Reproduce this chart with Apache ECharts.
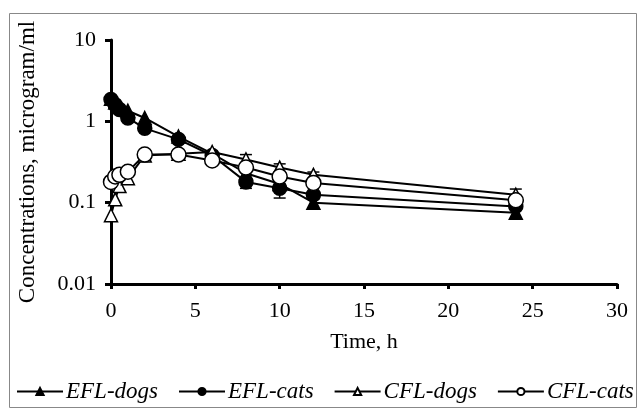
<!DOCTYPE html>
<html>
<head>
<meta charset="utf-8">
<script src="https://cdn.jsdelivr.net/npm/echarts@6/dist/echarts.min.js"></script>
<style>
html,body{margin:0;padding:0;background:#fff;}
#chart{width:641px;height:413px;}
</style>
</head>
<body>
<div id="chart"></div>
<script>
var seriesNames = ['EFL-dogs', 'EFL-cats', 'CFL-dogs', 'CFL-cats'];
var times = [0, 0.25, 0.5, 1, 2, 4, 6, 8, 10, 12, 24];
var eflDogs = [1.9, 1.7, 1.5, 1.35, 1.1, 0.65, 0.4, 0.23, 0.17, 0.1, 0.075];
var eflCats = [1.85, 1.6, 1.4, 1.1, 0.82, 0.6, 0.38, 0.18, 0.15, 0.125, 0.09];
var cflDogs = [0.07, 0.11, 0.16, 0.2, 0.38, 0.4, 0.42, 0.34, 0.27, 0.22, 0.125];
var cflCats = [0.18, 0.21, 0.22, 0.24, 0.39, 0.39, 0.33, 0.27, 0.21, 0.175, 0.107];
// error bars: [time, low, high]
var errBars = [
  [8, 0.3, 0.39], [8, 0.15, 0.2],
  [10, 0.114, 0.17], [10, 0.24, 0.3],
  [12, 0.083, 0.11], [12, 0.19, 0.238],
  [24, 0.063, 0.085], [24, 0.1, 0.147]
];
var yTickLabels = ['0.01', '0.1', '1', '10'];
var xTickLabels = ['0', '5', '10', '15', '20', '25', '30'];

function pairs(ys) { return times.map(function (t, i) { return [t, ys[i]]; }); }

var font = 'Liberation Serif';
var chart = echarts.init(document.getElementById('chart'));

function lineSeries(name, ys, symbol, filled, size) {
  return {
    name: name, type: 'line', data: pairs(ys),
    symbol: symbol, symbolSize: size, showAllSymbol: true,
    lineStyle: { color: '#000', width: 2 },
    itemStyle: { color: filled ? '#000' : '#fff', borderColor: '#000', borderWidth: 1.5 },
    emphasis: { disabled: true },
    z: 3
  };
}

var option = {
  animation: false,
  graphic: [{
    type: 'rect', left: 7, top: 11,
    shape: { width: 627, height: 394 },
    style: { fill: 'none', stroke: '#888', lineWidth: 1 }, silent: true
  }],
  grid: { left: 111, right: 24, top: 40, bottom: 129 },
  legend: {
    bottom: 5, left: 11,
    itemWidth: 46, itemHeight: 9, itemGap: 20,
    textStyle: { fontFamily: font, fontStyle: 'italic', fontSize: 23, color: '#000', padding: [0, 0, 0, -2] },
    data: seriesNames
  },
  xAxis: {
    type: 'value', min: 0, max: 30, interval: 5,
    name: 'Time, h', nameLocation: 'middle', nameGap: 47,
    nameTextStyle: { fontFamily: font, fontSize: 22, color: '#000', verticalAlign: 'top' },
    axisLine: { onZero: false, lineStyle: { color: '#000', width: 3 } },
    axisTick: { show: true, length: 5, lineStyle: { color: '#000', width: 3 } },
    axisLabel: { fontFamily: font, fontSize: 22, color: '#000', margin: 16,
      formatter: function (v) { var i = Math.round(v / 5); return xTickLabels[i] !== undefined ? xTickLabels[i] : ''; } },
    splitLine: { show: false }
  },
  yAxis: {
    type: 'log', logBase: 10, min: 0.01, max: 10,
    name: 'Concentrations, microgram/ml', nameLocation: 'middle', nameGap: 72,
    nameTextStyle: { fontFamily: font, fontSize: 23, color: '#000' },
    axisLine: { show: true, lineStyle: { color: '#000', width: 3 } },
    axisTick: { show: true, length: 6, lineStyle: { color: '#000', width: 3 } },
    minorTick: { show: false },
    axisLabel: { fontFamily: font, fontSize: 22, color: '#000', margin: 15,
      formatter: function (v) { var i = Math.round(Math.log10(v)) + 2; return yTickLabels[i] !== undefined ? yTickLabels[i] : ''; } },
    splitLine: { show: false }
  },
  series: [
    {
      type: 'custom', name: 'err', data: errBars, z: 2, silent: true,
      renderItem: function (params, api) {
        var lo = api.coord([api.value(0), api.value(1)]);
        var hi = api.coord([api.value(0), api.value(2)]);
        var w = 6;
        var st = { stroke: '#000', lineWidth: 1.5 };
        return { type: 'group', children: [
          { type: 'line', shape: { x1: lo[0], y1: lo[1], x2: hi[0], y2: hi[1] }, style: st },
          { type: 'line', shape: { x1: lo[0] - w, y1: lo[1], x2: lo[0] + w, y2: lo[1] }, style: st },
          { type: 'line', shape: { x1: hi[0] - w, y1: hi[1], x2: hi[0] + w, y2: hi[1] }, style: st }
        ] };
      }
    },
    lineSeries('EFL-dogs', eflDogs, 'triangle', true, 13),
    lineSeries('EFL-cats', eflCats, 'circle', true, 14),
    lineSeries('CFL-dogs', cflDogs, 'triangle', false, 13),
    lineSeries('CFL-cats', cflCats, 'circle', false, 15)
  ]
};
chart.setOption(option);
</script>
</body>
</html>
